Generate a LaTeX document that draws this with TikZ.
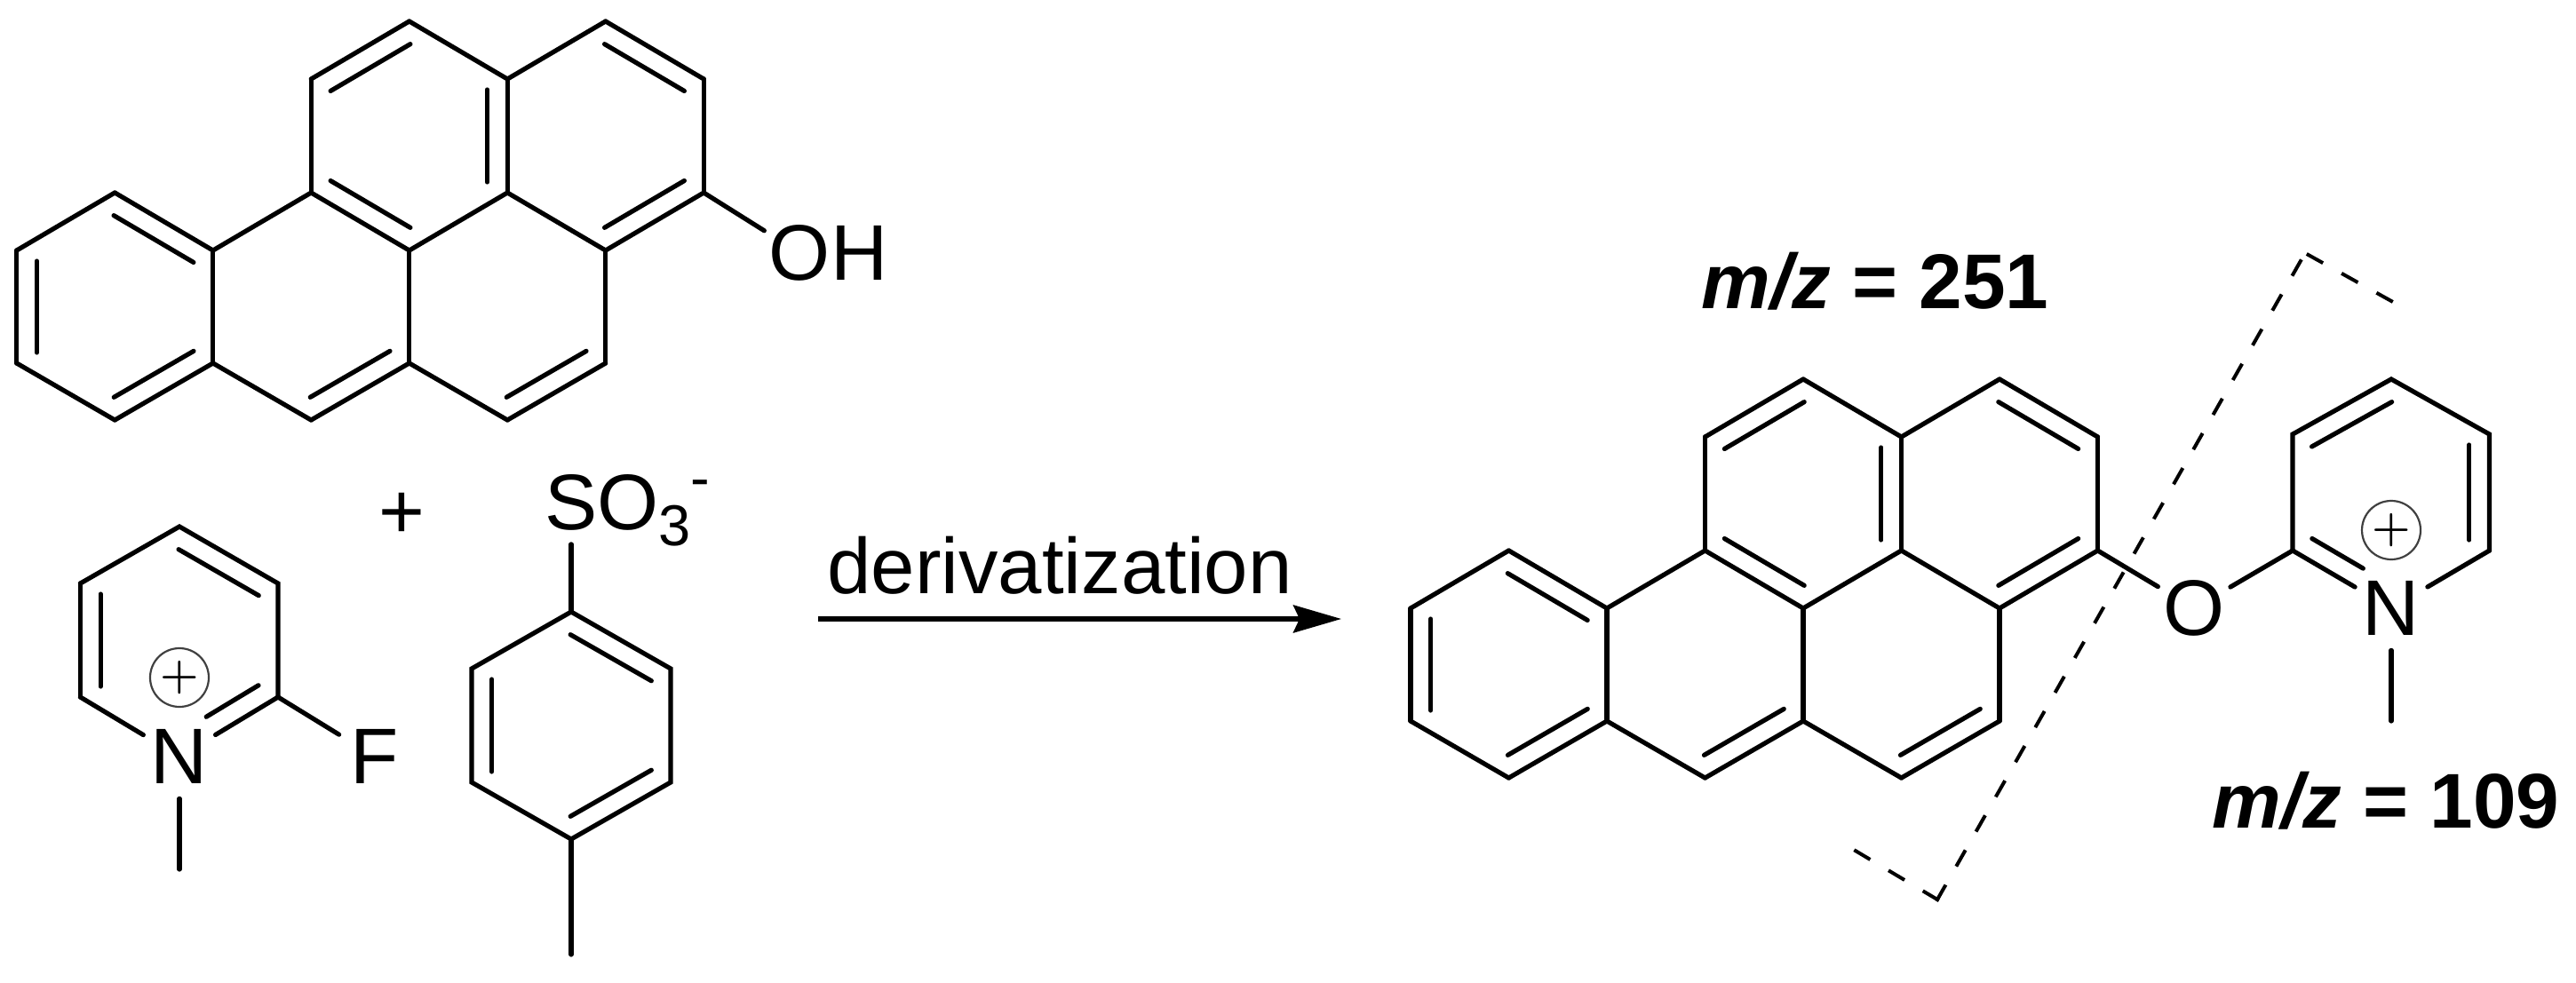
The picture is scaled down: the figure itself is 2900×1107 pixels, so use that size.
\documentclass[tikz,border=0pt]{standalone}
\usepackage{fontspec}
\setmainfont{Liberation Sans}
\usetikzlibrary{arrows.meta,calc}
\newcommand{\innerbond}[3][]{\draw[bond,shorten <=6pt,shorten >=6pt,#1] ($(#2)!11.35pt!-90:(#3)$) -- ($(#3)!11.35pt!90:(#2)$);}
\tikzset{
    bond/.style={line width=2.6pt,line cap=round},
    atom/.style={circle,inner sep=0pt,minimum size=47pt},
    charge/.style={circle,draw=black!75,line width=1.1pt,inner sep=0pt,minimum size=33pt,font=\fontsize{27pt}{30pt}\selectfont\boldmath},
    cutline/.style={line width=2pt,line cap=rect,dash pattern=on 8.5pt off 14pt},
    mzlabel/.style={anchor=base west,inner sep=0pt,font=\fontsize{43.7pt}{50pt}\selectfont\bfseries},
    benzopyrene/.pic={
        \foreach \n/\cx/\cy in {a/1/193,b/0/258,c/0/385,d/1/449,e/2/385,f/2/258,g/3/193,h/3/65,i/4/0,j/5/65,
                k/5/193,l/4/258,m/6/0,n/7/65,o/7/193,p/6/258,q/6/385,r/5/449,s/4/385,t/3/449}
            \coordinate (-\n) at (\cx*110.5,\cy);
        \foreach \u/\v in {a/b,b/c,c/d,d/e,e/f,f/a,f/g,g/h,h/i,i/j,j/k,k/l,l/g,l/s,s/t,t/e,j/m,m/n,n/o,o/p,p/k,p/q,q/r,r/s}
            \draw[bond] (-\u) -- (-\v);
        %% Inner lines of the double bonds
        \foreach \u/\v in {a/f,c/b,e/d,h/i,j/k,l/g,m/n,o/p,s/t,q/r}
            {\innerbond{-\u}{-\v}}
    }
}
\begin{document}
\begin{tikzpicture}[x=0.5pt,y=-0.5pt,every node/.style={font=\fontsize{44.4pt}{50pt}\selectfont}]
    \useasboundingbox (0,0) rectangle (2900,1107);
    %% Starting material
    \pic (L) at (18.75,24) {benzopyrene};
    \node[atom] (OH) at (900.5,285) {\makebox[0.778em][l]{OH}};
    \draw[bond] (L-o) -- (OH);
    %% Fluoropyridinium
    \coordinate (p1) at (202,593);
    \coordinate (p2) at (313,657);
    \coordinate (p3) at (313,785);
    \coordinate (p5) at (90.4,785);
    \coordinate (p6) at (90.4,657);
    \coordinate (pMe) at (202,979);
    \node[atom] (pN) at (202,852) {N};
    \node[atom] (pF) at (422,852) {F};
    \node[charge] (pC) at (202,763) {$+$};
    \draw[bond] (p6) -- (p1) -- (p2) -- (p3);
    \draw[bond] (p3) -- (pN);
    \draw[bond] (pN) -- (p5);
    \draw[bond] (p5) -- (p6);
    \draw[bond] (p3) -- (pF);
    \draw[bond] (pN) -- (pMe);
    \innerbond{p1}{p2}
    \innerbond{p5}{p6}
    \innerbond[shorten >=24.5pt]{p3}{pN}
    %% Plus
    \node (plus) at (452,581) {+};
    %% Tosylate
    \coordinate (t1) at (643,689);
    \coordinate (t2) at (755,753);
    \coordinate (t3) at (755,881);
    \coordinate (t4) at (643,945);
    \coordinate (t5) at (531,881);
    \coordinate (t6) at (531,753);
    \coordinate (tMe) at (643,1075);
    \node[atom] (tS) at (643,565.5) {\makebox[0.667em][l]{SO\fontsize{32.5pt}{36pt}\selectfont\raisebox{-9pt}[0pt][0pt]{3}\raisebox{18pt}[0pt][0pt]{-}}};
    \draw[bond] (t1) -- (t2) -- (t3) -- (t4) -- (t5) -- (t6) -- cycle;
    \draw[bond] (tS) -- (t1);
    \draw[bond] (t4) -- (tMe);
    \innerbond{t1}{t2}
    \innerbond{t3}{t4}
    \innerbond{t5}{t6}
    %% Reaction arrow
    \coordinate (arrowA) at (921,697);
    \coordinate (arrowB) at (1510,697);
    \draw[line width=2.6pt,-{Stealth[length=27pt,width=15.5pt,inset=3.5pt]}] (arrowA) -- (arrowB);
    \node[anchor=base,inner sep=0pt] (deriv) at (1193,668) {derivatization};
    %% Product
    \pic (R) at (1588,427) {benzopyrene};
    \node[atom] (rO) at (2470,685) {O};
    \node[atom] (rN) at (2692,685) {N};
    \node[charge] (rC) at (2692,597) {$+$};
    \coordinate (r1) at (2581,489);
    \coordinate (r2) at (2692,427);
    \coordinate (r3) at (2802.5,489);
    \coordinate (r4) at (2802.5,620);
    \coordinate (r6) at (2581,620);
    \coordinate (rMe) at (2692,812);
    \draw[bond] (R-o) -- (rO);
    \draw[bond] (rO) -- (r6);
    \draw[bond] (r6) -- (r1) -- (r2) -- (r3) -- (r4);
    \draw[bond] (r4) -- (rN);
    \draw[bond] (rN) -- (r6);
    \draw[bond] (rN) -- (rMe);
    \innerbond{r1}{r2}
    \innerbond{r3}{r4}
    \innerbond[shorten <=25pt]{rN}{r6}
    %% Cut
    \coordinate (cutA) at (2087,957);
    \coordinate (cutB) at (2181,1013);
    \coordinate (cutC) at (2595,285);
    \coordinate (cutD) at (2692,339);
    \draw[cutline] (cutB) -- (cutA);
    \draw[cutline] (cutB) -- (cutC);
    \draw[cutline] (cutD) -- (cutC);
    \node[mzlabel] (mzA) at (1915,347) {\textit{m/z} = 251};
    \node[mzlabel] (mzB) at (2490,932) {\textit{m/z} = 109};
\end{tikzpicture}
\end{document}
